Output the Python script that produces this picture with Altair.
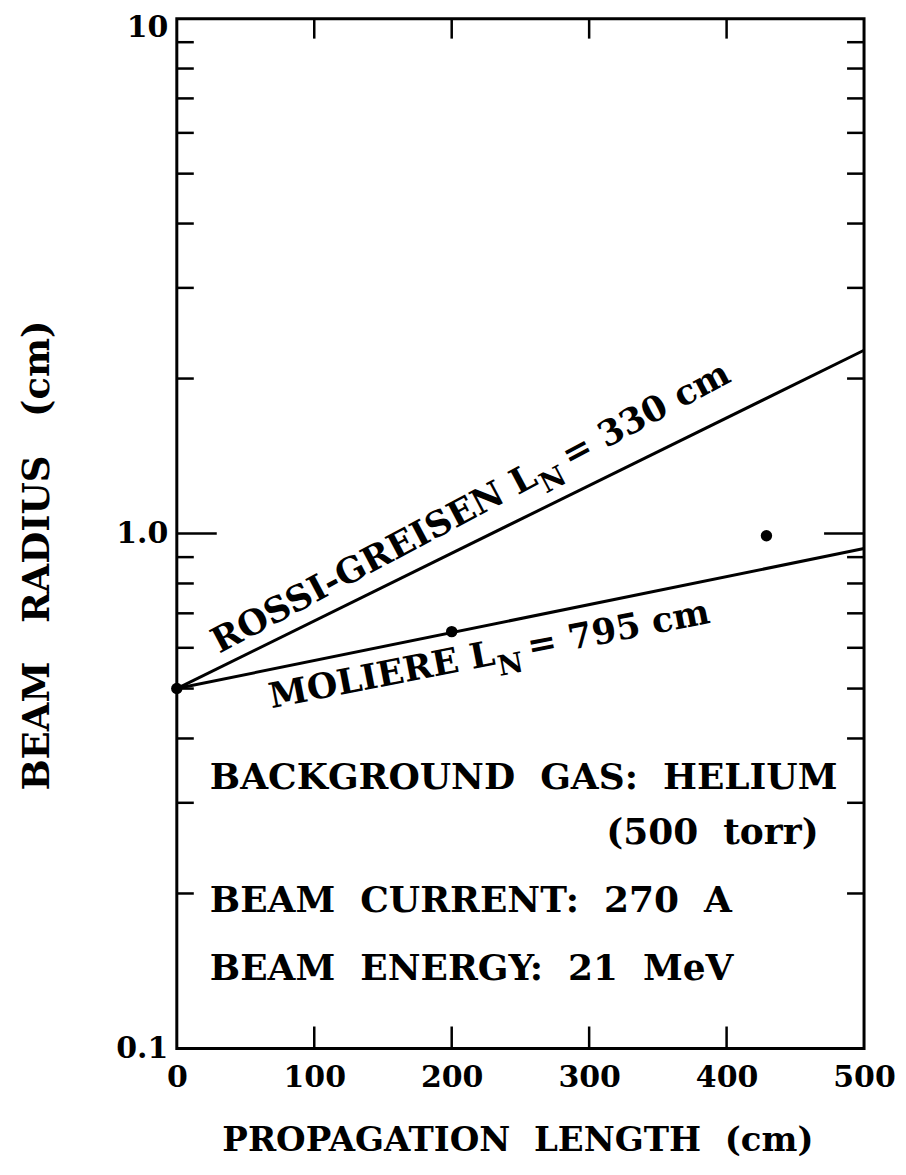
import altair as alt
import pandas as pd

# ---- data ----
x_line = [0, 500]
rossi_r = [0.5, 2.27]
moliere_r = [0.5, 0.935]

pts_x = [0, 200, 429]
pts_r = [0.5, 0.645, 0.99]

y_labels = [0.1, 1, 10]
x_labels = [0, 100, 200, 300, 400, 500]
y_minor = [0.2, 0.3, 0.4, 0.5, 0.6, 0.7, 0.8, 0.9, 2, 3, 4, 5, 6, 7, 8, 9]
y_major = [1]
x_inner = [100, 200, 300, 400]

lab_x = [263.8, 232.6]
lab_r = [1.25, 0.557]
lab_main = ["ROSSI-GREISEN L", "MOLIERE L"]
lab_sub = ["N", "N"]
lab_tail = ["=\u00a0330\u00a0cm", "=\u00a0795\u00a0cm"]
lab_angle = [332, 349]

NB2 = "\u00a0\u00a0"
NB3 = "\u00a0\u00a0\u00a0"
note_x = [24, 467, 24, 24]
note_r = [0.3347, 0.262, 0.1932, 0.1426]
note_text = ["BACKGROUND" + NB2 + "GAS:" + NB2 + "HELIUM",
             "(500" + NB2 + "torr)",
             "BEAM" + NB2 + "CURRENT:" + NB2 + "270" + NB2 + "A",
             "BEAM" + NB2 + "ENERGY:" + NB2 + "21" + NB2 + "MeV"]
note_align = ["left", "right", "left", "left"]

W, H = 688, 1031
FONT = "DejaVu Serif"

lines_df = pd.DataFrame({
    "x": x_line + x_line,
    "r": rossi_r + moliere_r,
    "series": ["Rossi-Greisen"] * 2 + ["Moliere"] * 2,
})
pts_df = pd.DataFrame({"x": pts_x, "r": pts_r})
minor_df = pd.DataFrame({"r": y_minor})
major_df = pd.DataFrame({"r": y_major})
xin_df = pd.DataFrame({"x": x_inner})
lab_df = pd.DataFrame({"x": lab_x, "r": lab_r, "main": lab_main, "sub": lab_sub,
                       "tail": lab_tail, "a": lab_angle})
note_df = pd.DataFrame({"x": note_x, "r": note_r, "t": note_text, "al": note_align})

xs = alt.Scale(domain=[0, 500], nice=False, zero=False)
ys = alt.Scale(type="log", domain=[0.1, 10], nice=False)

AX = alt.Axis(
    values=x_labels, ticks=False, domain=False, grid=False, labelFlush=False,
    labelFont=FONT, labelFontSize=30, labelFontWeight="bold", labelColor="black",
    labelPadding=14, title="PROPAGATION" + NB2 + "LENGTH" + NB2 + "(cm)", titleFont=FONT,
    titleFontSize=34, titleFontWeight="bold", titleColor="black",
    titleX=341, titleY=92, titleBaseline="middle", titleAlign="center")
AY = alt.Axis(
    values=y_labels, ticks=False, domain=False, grid=False, labelFlush=False,
    labelExpr="datum.value >= 10 ? '10' : format(datum.value, '.1f')",
    labelOffset=alt.ConditionalAxisNumber(condition={"test": "datum.value >= 10", "value": 9}, value=0),
    labelFont=FONT, labelFontSize=30, labelFontWeight="bold", labelColor="black",
    labelPadding=9, title="BEAM" + NB3 + "RADIUS" + NB3 + "(cm)", titleFont=FONT,
    titleFontSize=37, titleFontWeight="bold", titleColor="black",
    titleX=-139, titleY=537, titleAngle=270, titleBaseline="middle", titleAlign="center")

X = lambda: alt.X("x:Q", scale=xs, axis=AX)
Y = lambda: alt.Y("r:Q", scale=ys, axis=AY)

base_lines = alt.Chart(lines_df).mark_line(color="black", strokeWidth=3).encode(
    x=X(), y=Y(), detail="series:N")

points = alt.Chart(pts_df).mark_circle(color="black", size=130, opacity=1).encode(x=X(), y=Y())

RK = dict(color="black", strokeWidth=2.5)
left_minor = alt.Chart(minor_df).mark_rule(**RK).encode(y=Y(), x=alt.value(0), x2=alt.value(17))
right_minor = alt.Chart(minor_df).mark_rule(**RK).encode(y=Y(), x=alt.value(W - 17), x2=alt.value(W))
left_major = alt.Chart(major_df).mark_rule(**RK).encode(y=Y(), x=alt.value(0), x2=alt.value(40))
right_major = alt.Chart(major_df).mark_rule(**RK).encode(y=Y(), x=alt.value(W - 40), x2=alt.value(W))
top_ticks = alt.Chart(xin_df).mark_rule(**RK).encode(x=X(), y=alt.value(0), y2=alt.value(20))
bot_ticks = alt.Chart(xin_df).mark_rule(**RK).encode(x=X(), y=alt.value(H - 22), y2=alt.value(H))

tkw = dict(font=FONT, fontWeight="bold", color="black")
lab_main_m = alt.Chart(lab_df).mark_text(align="right", baseline="alphabetic", fontSize=35, **tkw).encode(
    x=X(), y=Y(), text="main:N", angle=alt.Angle("a:Q", scale=None))
lab_sub_m = alt.Chart(lab_df).mark_text(align="left", baseline="alphabetic", fontSize=28, dx=1, dy=12, **tkw).encode(
    x=X(), y=Y(), text="sub:N", angle=alt.Angle("a:Q", scale=None))
lab_tail_m = alt.Chart(lab_df).mark_text(align="left", baseline="alphabetic", fontSize=35, dx=34, dy=0, **tkw).encode(
    x=X(), y=Y(), text="tail:N", angle=alt.Angle("a:Q", scale=None))

notes_left = alt.Chart(note_df[note_df.al == "left"]).mark_text(
    align="left", baseline="middle", fontSize=36, **tkw).encode(x=X(), y=Y(), text="t:N")
notes_right = alt.Chart(note_df[note_df.al == "right"]).mark_text(
    align="right", baseline="middle", fontSize=36, **tkw).encode(x=X(), y=Y(), text="t:N")

chart = alt.layer(
    base_lines, points, left_minor, right_minor, left_major, right_major,
    top_ticks, bot_ticks, lab_main_m, lab_sub_m, lab_tail_m, notes_left, notes_right,
).properties(
    width=W, height=H,
    autosize=alt.AutoSizeParams(type="none"),
    padding={"left": 169, "top": 10, "right": 34, "bottom": 118},
    background="white",
).configure_view(stroke="black", strokeWidth=3)

chart.save("out.html", embed_options={"renderer": "svg", "actions": False})
